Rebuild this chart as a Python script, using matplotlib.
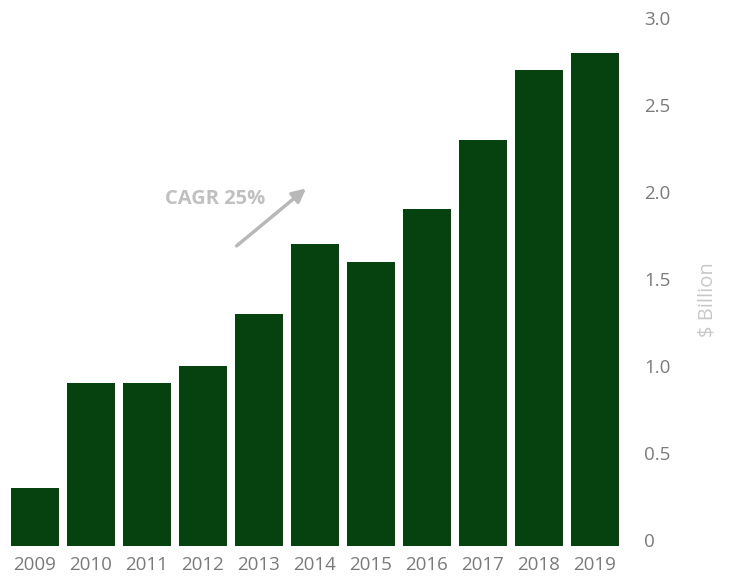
import matplotlib
matplotlib.use("Agg")
import matplotlib.pyplot as plt
import numpy as np

years = ["2009", "2010", "2011", "2012", "2013", "2014", "2015", "2016", "2017", "2018", "2019"]
values = [0.3, 0.9, 0.9, 1.0, 1.3, 1.7, 1.6, 1.9, 2.3, 2.7, 2.8]
yticks = [0, 0.5, 1.0, 1.5, 2.0, 2.5, 3.0]
ytick_labels = ["0", "0.5", "1.0", "1.5", "2.0", "2.5", "3.0"]

plt.rcParams['font.family'] = ['Open Sans', 'DejaVu Sans']

fig = plt.figure(figsize=(7.33, 5.76), dpi=100)
ax = fig.add_axes([7/733, 30/576, 616/733, 528/576])

base = -0.035
x = np.arange(len(years))
ax.bar(x, np.array(values) - base, bottom=base, width=48/56, color="#06420f")

ax.set_xlim(-0.5, len(years) - 0.5)
ax.set_ylim(base, 3.0)
ax.set_xticks(x)
ax.set_xticklabels(years, fontsize=13.5, color="#7a7a7a")
ax.yaxis.tick_right()
ax.set_yticks(yticks)
ax.set_yticklabels(ytick_labels, fontsize=13.5, color="#7a7a7a", ha="left")
ax.tick_params(axis="both", length=0)
ax.tick_params(axis="x", pad=7)
ax.tick_params(axis="y", pad=15)
for s in ax.spines.values():
    s.set_visible(False)

fig.text(708/733, 1 - 300/576, "$ Billion", rotation=90, ha="center", va="center",
         fontsize=14.5, color="#c8c8c8")

ax.text(3.21, 1.96, "CAGR 25%", ha="center", va="center", fontsize=14.5,
        fontweight="bold", color="#c0c0c0")
ax.annotate("", xy=(4.84, 2.02), xytext=(3.6, 1.69),
            arrowprops=dict(arrowstyle="-|>,head_length=0.8,head_width=0.4",
                            color="#b8b8b8", lw=2.5, shrinkA=0, shrinkB=0))

fig.savefig("out.png", dpi=100)
